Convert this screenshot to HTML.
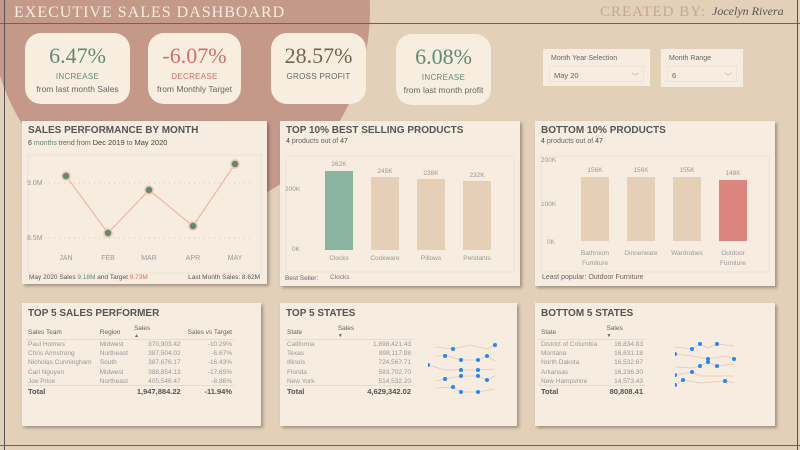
<!DOCTYPE html>
<html><head><meta charset="utf-8"><style>
*{margin:0;padding:0;box-sizing:border-box}
body{width:800px;height:450px;overflow:hidden;background:#e3d0b8;font-family:"Liberation Sans",sans-serif;position:relative;color:#555}
.abs{position:absolute}
.circ{position:absolute;left:-10px;top:-195px;width:380px;height:410px;border-radius:50%;background:#c4998a}
.card{position:absolute;background:#f8eedf;border-radius:16px;text-align:center}
.card .v{font-family:"Liberation Serif",serif;font-size:22px;margin-top:10px}
.card .l{font-size:8px;margin-top:3px;letter-spacing:.3px}
.card .s{font-size:8.5px;color:#666;margin-top:3px}
.panel{position:absolute;background:#f6ecdf;box-shadow:2px 2px 3px rgba(0,0,0,.3)}
.panel h3{font-size:10px;font-weight:bold;color:#555;position:absolute;left:6px;top:4px}
.sub{position:absolute;left:6px;top:17px;font-size:7px;color:#666}
.dd{position:absolute;background:#f6ecdf}
.dd .t{font-size:7px;color:#666;position:absolute;left:8px;top:6px}
.dd .b{position:absolute;left:6px;top:17px;right:6px;height:16px;border:1px solid #efe3d3;font-size:7.5px;color:#666;padding:4px 4px}
table{border-collapse:collapse;font-size:6.5px;color:#999}
td,th{padding:0 2px;height:9.3px;white-space:nowrap}
th{font-weight:normal;color:#666;text-align:left;height:14px;border-bottom:1px solid #ddd}
tr.tot td{color:#555;font-weight:bold;font-size:7.5px;border-top:1px solid #ddd;height:11px}
.r{text-align:right}
</style></head><body>
<div class="circ"></div>
<div class="abs" style="left:0;top:23px;width:800px;height:1px;background:#666"></div>
<div class="abs" style="left:4px;top:0;width:1px;height:450px;background:#555"></div>
<div class="abs" style="left:797px;top:0;width:1px;height:450px;background:#555"></div>
<div class="abs" style="left:0;top:445px;width:800px;height:1px;background:#666"></div>
<div class="abs" style="left:14px;top:4px;font-family:'Liberation Serif',serif;font-size:16px;color:#f6ecdf;letter-spacing:1px">EXECUTIVE SALES DASHBOARD</div>
<div class="abs" style="left:600px;top:4px;font-family:'Liberation Serif',serif;font-size:15px;color:#c9a597;letter-spacing:1px">CREATED BY:</div>
<div class="abs" style="left:712px;top:4px;font-family:'Liberation Serif',serif;font-style:italic;font-size:12px;color:#555">Jocelyn Rivera</div>

<div class="card" style="left:25px;top:33px;width:105px;height:71px"><div class="v" style="color:#5e8a78">6.47%</div><div class="l" style="color:#5e8a78">INCREASE</div><div class="s">from last month Sales</div></div>
<div class="card" style="left:148px;top:33px;width:93px;height:71px"><div class="v" style="color:#d96b66">-6.07%</div><div class="l" style="color:#d96b66">DECREASE</div><div class="s">from Monthly Target</div></div>
<div class="card" style="left:271px;top:33px;width:95px;height:71px"><div class="v" style="color:#7a5f57">28.57%</div><div class="l" style="color:#666">GROSS PROFIT</div></div>
<div class="card" style="left:396px;top:34px;width:95px;height:71px"><div class="v" style="color:#5e8a78">6.08%</div><div class="l" style="color:#5e8a78">INCREASE</div><div class="s">from last month profit</div></div>

<div class="dd" style="left:543px;top:49px;width:107px;height:37px"><div class="t">Month Year Selection</div><div class="b">May 20<span style="float:right;color:#aaa">﹀</span></div></div>
<div class="dd" style="left:661px;top:49px;width:82px;height:38px"><div class="t">Month Range</div><div class="b">6<span style="float:right;color:#aaa">﹀</span></div></div>

<div class="panel" style="left:22px;top:121px;width:245px;height:163px">
<h3>SALES PERFORMANCE BY MONTH</h3>
<div class="sub"><b style="font-weight:normal;color:#444">6</b> <span style="color:#5e8a78">months</span> trend from <span style="color:#444;font-size:7.5px">Dec 2019</span> to <span style="color:#444;font-size:7.5px">May 2020</span></div>
<svg class="abs" style="left:0;top:0" width="245" height="163">
<rect x="6" y="34" width="233" height="118" fill="none" stroke="#efe3d3"/>
<line x1="22" y1="62" x2="230" y2="62" stroke="#ccc" stroke-dasharray="1 4"/>
<line x1="22" y1="117" x2="230" y2="117" stroke="#ccc" stroke-dasharray="1 4"/>
<text x="5" y="64" font-size="7" fill="#999">9.0M</text>
<text x="5" y="119" font-size="7" fill="#999">8.5M</text>
<polyline points="44,55 86,112 127,69 171,105 213,43" fill="none" stroke="#f0b9a5" stroke-width="1.3"/>
<g fill="#5e8a6e" stroke="#f3c2b0" stroke-width="1.5"><circle cx="44" cy="55" r="4"/><circle cx="86" cy="112" r="4"/><circle cx="127" cy="69" r="4"/><circle cx="171" cy="105" r="4"/><circle cx="213" cy="43" r="4"/></g>
<g font-size="7" fill="#999" text-anchor="middle"><text x="44" y="139">JAN</text><text x="86" y="139">FEB</text><text x="127" y="139">MAR</text><text x="171" y="139">APR</text><text x="213" y="139">MAY</text></g>
<text x="7" y="158" font-size="6.5" fill="#555">May 2020  Sales  <tspan fill="#5e8a78">9.18M</tspan>  and Target  <tspan fill="#d96b66">9.73M</tspan></text>
<text x="238" y="158" font-size="6.5" fill="#555" text-anchor="end">Last Month Sales: 8.62M</text>
</svg></div>

<div class="panel" style="left:280px;top:121px;width:240px;height:165px">
<h3>TOP 10% BEST SELLING PRODUCTS</h3>
<div class="sub"><span style="color:#444">4</span> products out of <span style="color:#444">47</span></div>
<svg class="abs" style="left:0;top:0" width="240" height="165">
<rect x="6" y="35" width="228" height="116" fill="none" stroke="#efe3d3"/>
<g font-size="6.5" fill="#999"><text x="5" y="70">200K</text><text x="12" y="130">0K</text></g>
<rect x="45" y="50" width="28" height="79" fill="#89b59e"/>
<rect x="91" y="56" width="28" height="73" fill="#e5d0b7"/>
<rect x="137" y="58" width="28" height="71" fill="#e5d0b7"/>
<rect x="183" y="60" width="28" height="69" fill="#e5d0b7"/>
<g font-size="6.5" fill="#999" text-anchor="middle"><text x="59" y="45">262K</text><text x="105" y="52">245K</text><text x="151" y="54">238K</text><text x="197" y="56">232K</text>
<text x="59" y="139">Clocks</text><text x="105" y="139">Cookware</text><text x="151" y="139">Pillows</text><text x="197" y="139">Pendants</text></g>
<text x="5" y="159" font-size="6.5" fill="#666">Best Seller:</text><text x="50" y="158" font-size="6.5" fill="#777">Clocks</text>
</svg></div>

<div class="panel" style="left:535px;top:121px;width:240px;height:165px">
<h3>BOTTOM 10% PRODUCTS</h3>
<div class="sub"><span style="color:#444">4</span> products out of <span style="color:#444">47</span></div>
<svg class="abs" style="left:0;top:0" width="240" height="165">
<rect x="6" y="35" width="228" height="116" fill="none" stroke="#efe3d3"/>
<g font-size="6.5" fill="#999"><text x="6" y="41">200K</text><text x="6" y="85">100K</text><text x="12" y="123">0K</text></g>
<rect x="46" y="56" width="28" height="64" fill="#e5d0b7"/>
<rect x="92" y="56" width="28" height="64" fill="#e5d0b7"/>
<rect x="138" y="56" width="28" height="64" fill="#e5d0b7"/>
<rect x="184" y="59" width="28" height="61" fill="#dc857e"/>
<g font-size="6.5" fill="#999" text-anchor="middle"><text x="60" y="51">156K</text><text x="106" y="51">156K</text><text x="152" y="51">155K</text><text x="198" y="54">148K</text>
<text x="60" y="134">Bathroom</text><text x="60" y="144">Furniture</text><text x="106" y="134">Dinnerware</text><text x="152" y="134">Wardrobes</text><text x="198" y="134">Outdoor</text><text x="198" y="144">Furniture</text></g>
<text x="7" y="158" font-size="7" fill="#666">Least popular: <tspan fill="#7a5f57">Outdoor Furniture</tspan></text>
</svg></div>

<div class="panel" style="left:22px;top:303px;width:239px;height:123px">
<h3 style="top:5px">TOP 5 SALES PERFORMER</h3>
<table class="abs" style="left:4px;top:22px;width:208px">
<tr><th>Sales Team</th><th>Region</th><th>Sales<br><span style="font-size:5px">▲</span></th><th class="r">Sales vs Target</th></tr>
<tr><td>Paul Holmes</td><td>Midwest</td><td class="r">370,903.42</td><td class="r">-10.29%</td></tr>
<tr><td>Chris Armstrong</td><td>Northeast</td><td class="r">387,504.02</td><td class="r">-6.67%</td></tr>
<tr><td>Nicholas Cunningham</td><td>South</td><td class="r">387,676.17</td><td class="r">-16.43%</td></tr>
<tr><td>Carl Nguyen</td><td>Midwest</td><td class="r">388,854.13</td><td class="r">-17.65%</td></tr>
<tr><td>Joe Price</td><td>Northeast</td><td class="r">405,546.47</td><td class="r">-8.86%</td></tr>
<tr class="tot"><td>Total</td><td></td><td class="r">1,947,884.22</td><td class="r">-11.94%</td></tr>
</table></div>

<div class="panel" style="left:280px;top:303px;width:237px;height:123px">
<h3 style="top:5px">TOP 5 STATES</h3>
<table class="abs" style="left:5px;top:22px;width:128px">
<tr><th>State</th><th>Sales<br><span style="font-size:5px">▼</span></th></tr>
<tr><td>California</td><td class="r">1,898,421.43</td></tr>
<tr><td>Texas</td><td class="r">898,117.98</td></tr>
<tr><td>Illinois</td><td class="r">724,567.71</td></tr>
<tr><td>Florida</td><td class="r">593,702.70</td></tr>
<tr><td>New York</td><td class="r">514,532.20</td></tr>
<tr class="tot"><td>Total</td><td class="r">4,629,342.02</td></tr>
</table>
<svg class="abs" style="left:148px;top:35px" width="80" height="60" fill="#1e88ff">
<g fill="none" stroke="#f3c2b0" stroke-width=".8"><polyline points="8,9 25,11 42,7 59,11 67,7"/><polyline points="8,18 17,17 33,22 50,22 59,18 67,23"/><polyline points="0,27 17,32 33,32 50,32 67,31"/><polyline points="8,43 17,41 33,38 50,38 59,42 67,38"/><polyline points="8,50 25,49 33,54 50,54 67,51"/></g>
<circle cx="25" cy="11" r="2"/><circle cx="67" cy="7" r="2"/><circle cx="17" cy="18" r="2"/><circle cx="33" cy="22" r="2"/><circle cx="50" cy="22" r="2"/><circle cx="59" cy="18" r="2"/><circle cx="0" cy="27" r="2"/><circle cx="33" cy="32" r="2"/><circle cx="50" cy="32" r="2"/><circle cx="17" cy="41" r="2"/><circle cx="33" cy="38" r="2"/><circle cx="50" cy="38" r="2"/><circle cx="59" cy="42" r="2"/><circle cx="25" cy="49" r="2"/><circle cx="33" cy="54" r="2"/><circle cx="50" cy="54" r="2"/>
</svg></div>

<div class="panel" style="left:535px;top:303px;width:240px;height:123px">
<h3 style="top:5px">BOTTOM 5 STATES</h3>
<table class="abs" style="left:4px;top:22px;width:106px">
<tr><th>State</th><th>Sales<br><span style="font-size:5px">▼</span></th></tr>
<tr><td>District of Columbia</td><td class="r">16,834.83</td></tr>
<tr><td>Montana</td><td class="r">16,631.18</td></tr>
<tr><td>North Dakota</td><td class="r">16,532.67</td></tr>
<tr><td>Arkansas</td><td class="r">16,236.30</td></tr>
<tr><td>New Hampshire</td><td class="r">14,573.43</td></tr>
<tr class="tot"><td>Total</td><td class="r">80,808.41</td></tr>
</table>
<svg class="abs" style="left:140px;top:35px" width="80" height="60" fill="#1e88ff">
<g fill="none" stroke="#f3c2b0" stroke-width=".8"><polyline points="0,9 17,11 25,6 33,10 42,6 59,8"/><polyline points="0,16 17,18 33,21 50,18 59,21"/><polyline points="0,29 17,30 25,28 33,24 42,28 59,26"/><polyline points="0,37 17,34 25,38 59,38"/><polyline points="0,47 8,42 25,45 50,43 59,45"/></g>
<circle cx="17" cy="11" r="2"/><circle cx="25" cy="6" r="2"/><circle cx="42" cy="6" r="2"/><circle cx="0" cy="16" r="2"/><circle cx="33" cy="21" r="2"/><circle cx="59" cy="21" r="2"/><circle cx="25" cy="28" r="2"/><circle cx="33" cy="24" r="2"/><circle cx="42" cy="28" r="2"/><circle cx="0" cy="37" r="2"/><circle cx="17" cy="34" r="2"/><circle cx="0" cy="47" r="2"/><circle cx="8" cy="42" r="2"/><circle cx="50" cy="43" r="2"/>
</svg></div>
</body></html>
